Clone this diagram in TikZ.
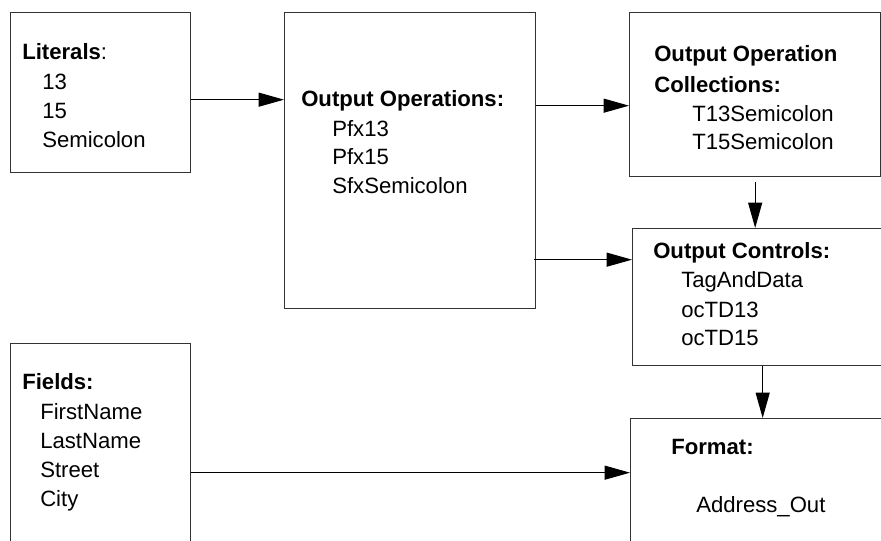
\documentclass[tikz,border=0pt]{standalone}
\usepackage{fontspec}
\setmainfont{Liberation Sans}
\usetikzlibrary{arrows.meta,calc}
\begin{document}
\begin{tikzpicture}[x=0.75pt,y=-0.75pt,
 box/.style={draw=black!80, line width=1pt, inner sep=0, anchor=north west},
 txt/.style={anchor=base west, inner sep=0, font=\fontsize{16.6}{20}\selectfont},
 hd/.style={anchor=base west, inner sep=0, font=\fontsize{16.6}{20}\selectfont\bfseries},
 arr/.style={-{Triangle[length=19pt,width=10.5pt]}, line width=0.8pt}]
\useasboundingbox (0,0) rectangle (881,540);
\clip (0,0) rectangle (881,540);
% boxes
\node[box, minimum width=135pt, minimum height=120pt] (lit) at (10,12) {};
\node[box, minimum width=188.25pt, minimum height=222pt] (ops) at (284,12) {};
\node[box, minimum width=188.25pt, minimum height=123pt] (coll) at (629,12) {};
\node[box, minimum width=195pt, minimum height=102.75pt] (ctrl) at (632,228) {};
\node[box, minimum width=198pt, minimum height=106.5pt] (fmt) at (630,418) {};
\node[box, minimum width=135pt, minimum height=162.75pt] (fields) at (10,343) {};
% texts
\node[txt] (tlit) at (22,59) {\textbf{Literals}:};
\node[txt] (tl1) at (42,89) {13};
\node[txt] (tl2) at (42,118) {15};
\node[txt] (tl3) at (42,147) {Semicolon};
\node[hd] (tops) at (301,106) {Output Operations:};
\node[txt] (to1) at (332,136) {Pfx13};
\node[txt] (to2) at (332,164) {Pfx15};
\node[txt] (to3) at (332,193) {SfxSemicolon};
\node[hd] (tcoll1) at (654,61) {Output Operation};
\node[hd] (tcoll2) at (654,92) {Collections:};
\node[txt] (tc1) at (692,121) {T13Semicolon};
\node[txt] (tc2) at (692,149) {T15Semicolon};
\node[hd] (tctrl) at (653,258) {Output Controls:};
\node[txt] (tk1) at (681,287) {TagAndData};
\node[txt] (tk2) at (681,317) {ocTD13};
\node[txt] (tk3) at (681,345) {ocTD15};
\node[hd] (tfmt) at (671,454) {Format:};
\node[txt] (tf1) at (696,512) {Address\_Out};
\node[hd] (tfld) at (22,389) {Fields:};
\node[txt] (tfl1) at (40,419) {FirstName};
\node[txt] (tfl2) at (40,448) {LastName};
\node[txt] (tfl3) at (40,477) {Street};
\node[txt] (tfl4) at (40,506) {City};
% connectors
\draw[arr] ($(lit.east)+(0,7)$) coordinate (a1) -- (a1 -| ops.west);
\draw[arr] ($(ops.east)+(0,-55)$) coordinate (a2) -- (a2 -| coll.west);
\draw[arr] ($(ops.east)+(-2,99)$) coordinate (a3) -- (a3 -| ctrl.west);
\draw[arr] ($(coll.south)+(0,5)$) coordinate (a4) -- (a4 |- ctrl.north);
\draw[arr] (ctrl.south) -- (ctrl.south |- fmt.north);
\draw[arr] ($(fields.east)+(0,20.5)$) coordinate (a5) -- (a5 -| fmt.west);
\end{tikzpicture}
\end{document}
